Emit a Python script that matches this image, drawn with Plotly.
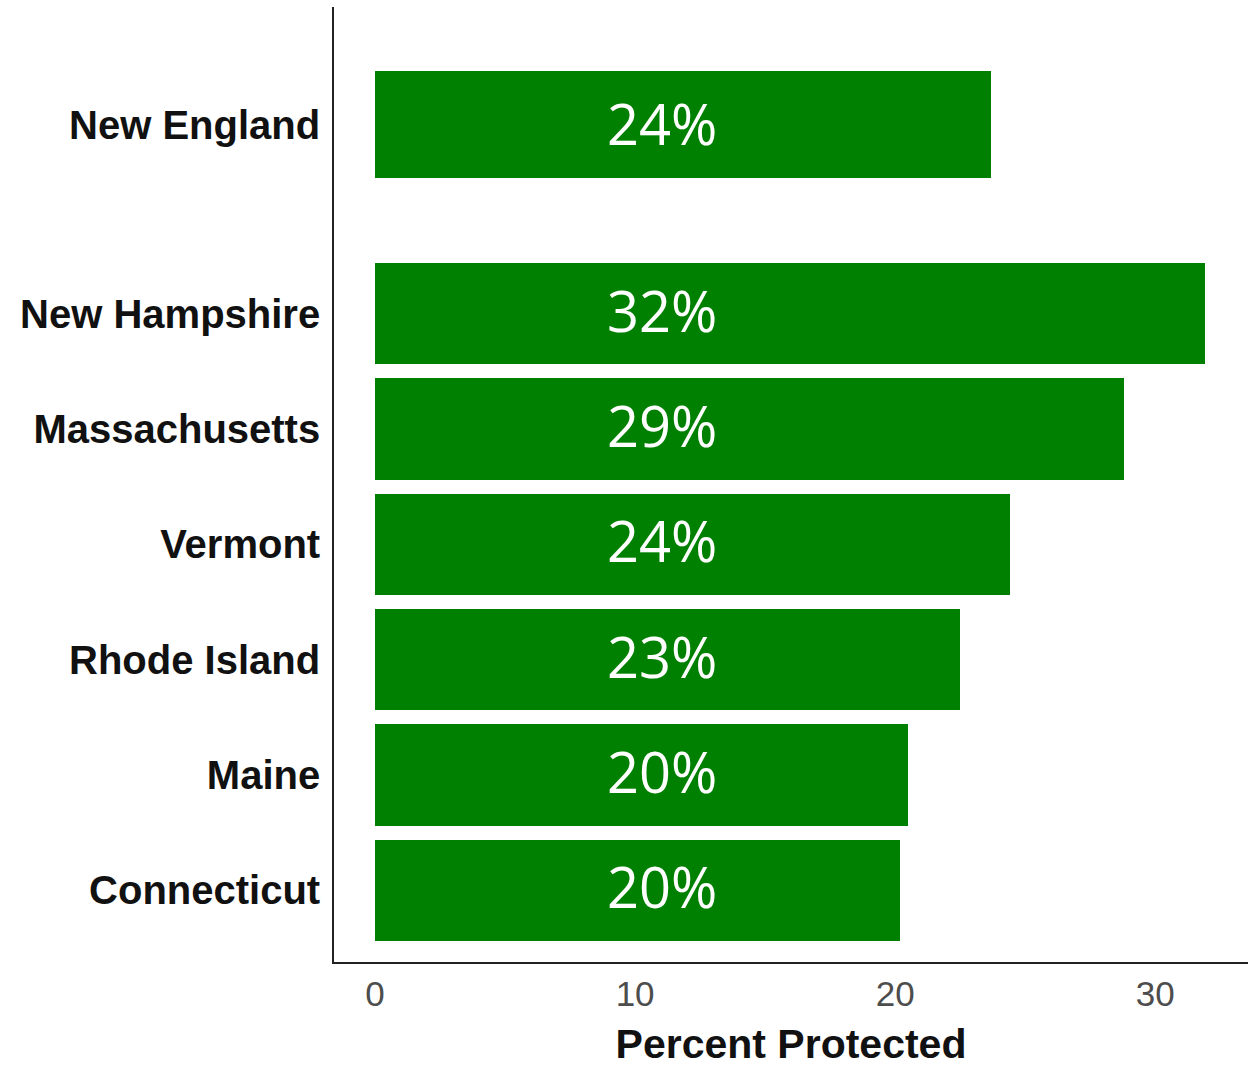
import plotly.graph_objects as go
from plotly.subplots import make_subplots

# ---- data ----
region = ["New England"]
region_values = [23.7]
region_labels = ["24%"]

states = ["New Hampshire", "Massachusetts", "Vermont", "Rhode Island", "Maine", "Connecticut"]
state_values = [31.9, 28.8, 24.4, 22.5, 20.5, 20.2]
state_labels = ["32%", "29%", "24%", "23%", "20%", "20%"]

x_ticks = [0, 10, 20, 30]
X_RANGE = [-1.58, 33.57]
LABEL_X = 11.05

GREEN = "#008000"
W, H = 1251, 1067
M_TOP, M_BOT, M_LEFT, M_RIGHT = 7, 105, 334, 3
plot_h = H - M_TOP - M_BOT
bottom_px = 720
split = bottom_px / plot_h

fig = make_subplots(rows=2, cols=1, shared_xaxes=True, vertical_spacing=0,
                    row_heights=[1 - split, split])

# top panel (region)
fig.add_trace(go.Bar(y=region, x=region_values, orientation="h", width=0.91,
                     marker=dict(color=GREEN, line=dict(width=0)), showlegend=False,
                     hoverinfo="skip"), row=1, col=1)
# bottom panel (states)
fig.add_trace(go.Bar(y=states, x=state_values, orientation="h", width=0.88,
                     marker=dict(color=GREEN, line=dict(width=0)), showlegend=False,
                     hoverinfo="skip"), row=2, col=1)

label_font = dict(family="Open Sans", size=56, color="white")
for cat, lab in zip(region, region_labels):
    fig.add_annotation(x=LABEL_X, y=cat, xref="x", yref="y", text=lab, showarrow=False,
                       font=label_font, xanchor="center", yanchor="middle", yshift=2)
for cat, lab in zip(states, state_labels):
    fig.add_annotation(x=LABEL_X, y=cat, xref="x2", yref="y2", text=lab, showarrow=False,
                       font=label_font, xanchor="center", yanchor="middle", yshift=4)

ytick_font = dict(family="Liberation Sans", size=40, color="#111111", weight="bold")

fig.update_layout(
    width=W, height=H,
    margin=dict(l=M_LEFT, r=M_RIGHT, t=M_TOP, b=M_BOT),
    paper_bgcolor="white", plot_bgcolor="white",
    bargap=0,
)

fig.update_xaxes(range=X_RANGE, showgrid=False, zeroline=False, row=1, col=1,
                 showticklabels=False, showline=False, ticks="")
fig.update_xaxes(range=X_RANGE, showgrid=False, zeroline=False, row=2, col=1,
                 tickvals=x_ticks, ticktext=[str(v) for v in x_ticks],
                 tickfont=dict(family="Liberation Sans", size=35, color="#4d4d4d"),
                 showline=True, linecolor="#222222", linewidth=1.6, ticks="",
                 title=dict(text="Percent Protected",
                            font=dict(family="Liberation Sans", size=41, color="#111111", weight="bold"),
                            standoff=23))

fig.update_yaxes(type="category", range=[-1, 1], showgrid=False, zeroline=False,
                 showline=True, linecolor="#222222", linewidth=1.6, ticks="",
                 tickfont=ytick_font, ticklabelstandoff=4, row=1, col=1)
fig.update_yaxes(type="category", categoryorder="array", categoryarray=states[::-1],
                 range=[-0.62, len(states) - 1 + 0.62], showgrid=False, zeroline=False,
                 showline=True, linecolor="#222222", linewidth=1.6, ticks="",
                 tickfont=ytick_font, ticklabelstandoff=4, row=2, col=1)

fig.write_html("out.html")
